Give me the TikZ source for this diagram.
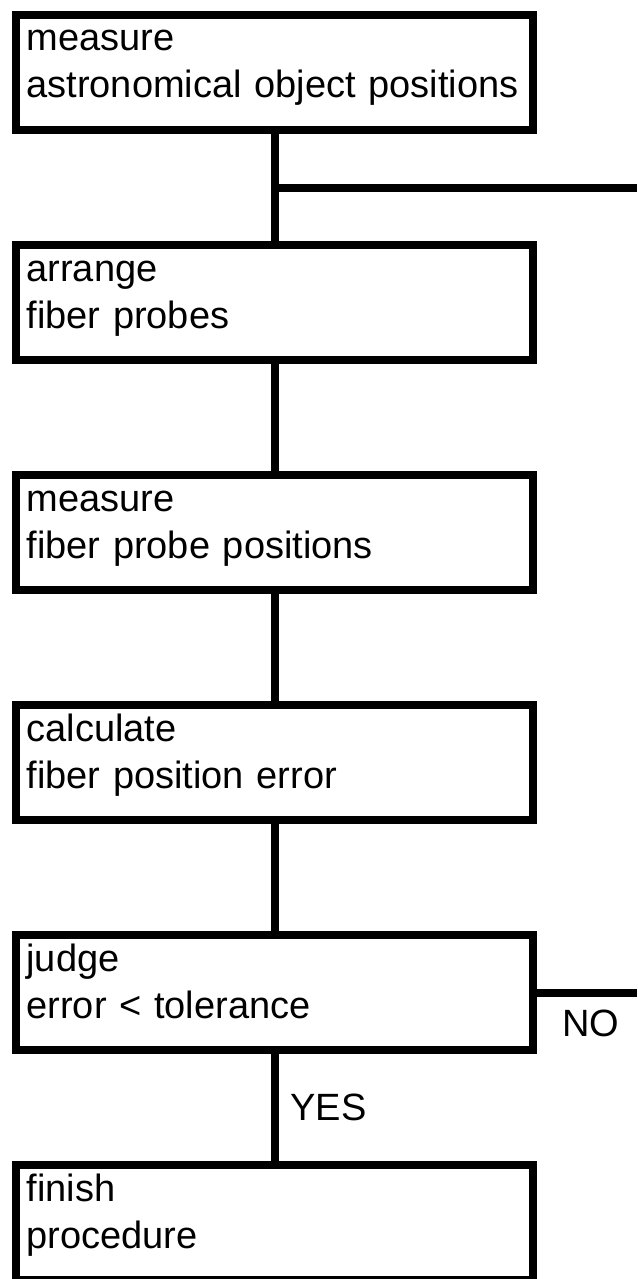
\documentclass[tikz,border=0pt]{standalone}
\usepackage{fontspec}
\setmainfont{Liberation Sans}
\usetikzlibrary{positioning}

\begin{document}
\begin{tikzpicture}[
      node distance = 107pt,
      box/.style    = {rectangle, draw, line width=8pt,
                       text width=496pt, inner xsep=10.5pt, inner ysep=0pt,
                       text height=36pt, text depth=79pt, align=left,
                       font=\fontsize{38pt}{47pt}\selectfont},
      link/.style   = {line width=8pt},
      tag/.style    = {inner sep=0pt, outer sep=0pt,
                       font=\fontsize{38pt}{47pt}\selectfont},
    ]
    \useasboundingbox (0,0) rectangle (637pt,-1279pt);
    \coordinate (rim) at (637pt,0);

    \node[box, anchor=north west] (objpos) at (12pt,-11pt)
          {measure\\astronomical object positions};
    \node[box, below=of objpos]   (arrange) {arrange\\fiber probes};
    \node[box, below=of arrange]  (probepos) {measure\\fiber probe positions};
    \node[box, below=of probepos] (calc) {calculate\\fiber position error};
    \node[box, below=of calc]     (judge) {judge\\error < tolerance};
    \node[box, below=of judge]    (finish) {finish\\procedure};

    % Main flow
    \draw[link] (objpos) -- coordinate[midway] (fork) (arrange);
    \draw[link] (arrange) -- (probepos);
    \draw[link] (probepos) -- (calc);
    \draw[link] (calc) -- (judge);
    \draw[link] (judge) -- node[tag, right=16pt]{YES} (finish);

    % Branches leaving to the right
    \draw[link] (fork) -- (fork -| rim);
    \draw[link] (judge) -- node[tag, below=17pt, xshift=4pt]{NO} (judge -| rim);
  \end{tikzpicture}
\end{document}
